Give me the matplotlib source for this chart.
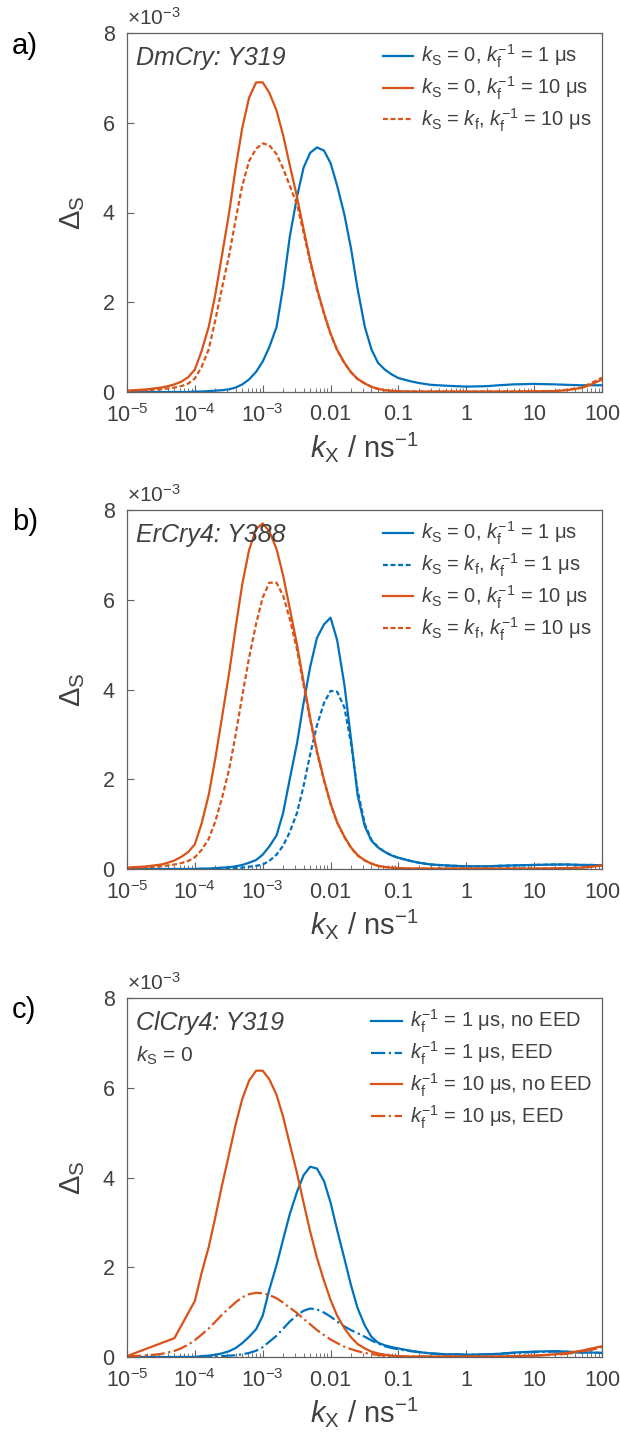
import numpy as np
import matplotlib
matplotlib.use('Agg')
import matplotlib.pyplot as plt
from matplotlib.ticker import LogLocator, NullFormatter

plt.rcParams['font.family'] = ['Liberation Sans', 'DejaVu Sans']
plt.rcParams['mathtext.fontset'] = 'custom'
plt.rcParams['mathtext.rm'] = 'Liberation Sans'
plt.rcParams['mathtext.it'] = 'Liberation Sans:italic'
plt.rcParams['mathtext.default'] = 'regular'

BLUE = '#0072BD'
ORANGE = '#D95319'
TXT = '#404040'
AXC = '#606060'

# k_X grid in ns^-1 (10 points per decade up to 0.1, coarser above)
kx = [1e-5, 1.25e-5, 1.6e-5, 2e-5, 2.5e-5, 3.2e-5, 4e-5, 5e-5, 6.3e-5, 8e-5,
      1e-4, 1.25e-4, 1.6e-4, 2e-4, 2.5e-4, 3.2e-4, 4e-4, 5e-4, 6.3e-4, 8e-4,
      1e-3, 1.25e-3, 1.6e-3, 2e-3, 2.5e-3, 3.2e-3, 4e-3, 5e-3, 6.3e-3, 8e-3,
      0.01, 0.0125, 0.016, 0.02, 0.025, 0.032, 0.04, 0.05, 0.063, 0.08,
      0.1, 0.15, 0.2, 0.3, 0.5, 0.7, 1, 2, 3, 5, 10, 20, 30, 50, 70, 100]

# ---- panel a (Delta_S in units of 1e-3)
a_blue_1us = [0, 0, 0, 0, 0, 0, 0, 0, 0, 0,
              0.01, 0.01, 0.02, 0.03, 0.04, 0.06, 0.1, 0.17, 0.28, 0.45,
              0.68, 1.0, 1.45, 2.35, 3.45, 4.35, 5.0, 5.33, 5.45, 5.38,
              5.1, 4.6, 3.95, 3.2, 2.3, 1.45, 0.95, 0.65, 0.5, 0.39,
              0.31, 0.24, 0.2, 0.16, 0.14, 0.13, 0.12, 0.13, 0.15, 0.17, 0.18, 0.17, 0.16, 0.15, 0.15, 0.15]
a_or_10us = [0.03, 0.04, 0.05, 0.06, 0.08, 0.10, 0.13, 0.17, 0.23, 0.33,
             0.5, 0.9, 1.45, 2.17, 3.03, 4.0, 5.0, 5.89, 6.56, 6.9,
             6.9, 6.67, 6.27, 5.72, 5.06, 4.35, 3.63, 2.94, 2.31, 1.76,
             1.30, 0.94, 0.65, 0.44, 0.29, 0.19, 0.115, 0.07, 0.04, 0.025,
             0.015, 0.01, 0.01, 0.01, 0.01, 0.01, 0.01, 0.01, 0.01, 0.01, 0.015, 0.02, 0.04, 0.09, 0.17, 0.28]
a_or_10us_kf = [0.02, 0.03, 0.03, 0.04, 0.05, 0.06, 0.08, 0.1, 0.13, 0.19,
                0.3, 0.55, 0.95, 1.6, 2.3, 3.05, 3.85, 4.6, 5.15, 5.42,
                5.54, 5.5, 5.3, 4.98, 4.6, 4.18, 3.55, 2.9, 2.28, 1.74,
                1.29, 0.93, 0.64, 0.44, 0.29, 0.19, 0.115, 0.07, 0.04, 0.025,
                0.015, 0.01, 0.01, 0.01, 0.01, 0.01, 0.01, 0.01, 0.01, 0.01, 0.015, 0.02, 0.05, 0.1, 0.2, 0.32]

# ---- panel b
b_blue_1us = [0, 0, 0, 0, 0, 0, 0, 0, 0, 0,
              0, 0.01, 0.01, 0.02, 0.03, 0.04, 0.06, 0.09, 0.14, 0.2,
              0.32, 0.5, 0.75, 1.25, 2.0, 2.8, 3.7, 4.5, 5.15, 5.45,
              5.6, 5.1, 4.1, 2.9, 1.65, 0.95, 0.63, 0.48, 0.38, 0.3,
              0.25, 0.18, 0.14, 0.1, 0.08, 0.07, 0.06, 0.06, 0.07, 0.08, 0.09, 0.1, 0.1, 0.09, 0.09, 0.08]
b_blue_1us_kf = [0, 0, 0, 0, 0, 0, 0, 0, 0, 0,
                 0, 0, 0, 0, 0, 0.01, 0.02, 0.03, 0.05, 0.07,
                 0.1, 0.18, 0.32, 0.52, 0.82, 1.25, 1.85, 2.55, 3.2, 3.7,
                 3.97, 3.95, 3.6, 2.8, 1.75, 1.0, 0.65, 0.49, 0.38, 0.3,
                 0.25, 0.18, 0.14, 0.1, 0.08, 0.07, 0.06, 0.06, 0.07, 0.08, 0.09, 0.1, 0.1, 0.09, 0.09, 0.08]
b_or_10us = [0.03, 0.04, 0.05, 0.06, 0.08, 0.1, 0.14, 0.19, 0.27, 0.38,
             0.55, 1.0, 1.65, 2.46, 3.36, 4.37, 5.39, 6.35, 7.11, 7.58,
             7.7, 7.53, 7.13, 6.54, 5.81, 5.0, 4.17, 3.37, 2.63, 1.99,
             1.46, 1.04, 0.72, 0.48, 0.31, 0.19, 0.12, 0.07, 0.045, 0.03,
             0.02, 0.01, 0.01, 0.01, 0.01, 0.01, 0.01, 0.01, 0.01, 0.01, 0.01, 0.015, 0.02, 0.03, 0.05, 0.08]
b_or_10us_kf = [0.02, 0.02, 0.03, 0.04, 0.05, 0.06, 0.08, 0.1, 0.13, 0.18,
                0.26, 0.42, 0.67, 1.06, 1.57, 2.22, 3.0, 3.86, 4.71, 5.47,
                6.05, 6.38, 6.38, 6.09, 5.58, 4.89, 4.1, 3.33, 2.6, 1.97,
                1.45, 1.03, 0.71, 0.47, 0.3, 0.19, 0.12, 0.07, 0.045, 0.03,
                0.02, 0.01, 0.01, 0.01, 0.01, 0.01, 0.01, 0.01, 0.01, 0.01, 0.01, 0.015, 0.02, 0.03, 0.05, 0.08]

# ---- panel c
c_blue_noeed = [0, 0, 0, 0, 0, 0, 0, 0, 0, 0,
                0, 0.02, 0.03, 0.05, 0.08, 0.13, 0.2, 0.31, 0.45, 0.62,
                0.92, 1.5, 2.05, 2.62, 3.18, 3.68, 4.05, 4.24, 4.2, 3.92,
                3.44, 2.83, 2.19, 1.6, 1.09, 0.7, 0.45, 0.32, 0.26, 0.22,
                0.19, 0.14, 0.11, 0.08, 0.06, 0.06, 0.05, 0.06, 0.07, 0.1, 0.12, 0.13, 0.12, 0.1, 0.1, 0.09]
c_blue_eed = [0, 0, 0, 0, 0, 0, 0, 0, 0, 0,
              0, 0, 0.01, 0.01, 0.02, 0.03, 0.04, 0.06, 0.09, 0.14,
              0.22, 0.34, 0.475, 0.63, 0.79, 0.93, 1.03, 1.08, 1.06, 0.99,
              0.9, 0.79, 0.68, 0.6, 0.53, 0.45, 0.37, 0.3, 0.24, 0.2,
              0.17, 0.13, 0.11, 0.08, 0.06, 0.06, 0.05, 0.06, 0.07, 0.09, 0.11, 0.12, 0.12, 0.1, 0.1, 0.09]
c_or_eed = [0.02, 0.02, 0.03, 0.04, 0.05, 0.07, 0.1, 0.135, 0.196, 0.275,
            0.375, 0.496, 0.634, 0.785, 0.94, 1.09, 1.22, 1.33, 1.40, 1.43,
            1.42, 1.38, 1.31, 1.21, 1.10, 0.98, 0.85, 0.73, 0.60, 0.49,
            0.39, 0.31, 0.23, 0.175, 0.13, 0.09, 0.065, 0.045, 0.03, 0.02,
            0.015, 0.01, 0.01, 0.01, 0.01, 0.01, 0.01, 0.01, 0.01, 0.02, 0.03, 0.05, 0.07, 0.12, 0.16, 0.22]
# the no-EED 10 us run is coarsely sampled at low k_X
kx_c_or = [1e-5, 5e-5,
           1e-4, 1.25e-4, 1.6e-4, 2e-4, 2.5e-4, 3.2e-4, 4e-4, 5e-4, 6.3e-4, 8e-4,
           1e-3, 1.25e-3, 1.6e-3, 2e-3, 2.5e-3, 3.2e-3, 4e-3, 5e-3, 6.3e-3, 8e-3,
           0.01, 0.0125, 0.016, 0.02, 0.025, 0.032, 0.04, 0.05, 0.063, 0.08,
           0.1, 0.15, 0.2, 0.3, 0.5, 0.7, 1, 2, 3, 5, 10, 20, 30, 50, 70, 100]
c_or_noeed = [0.02, 0.42,
              1.25, 1.86, 2.45, 3.11, 3.81, 4.53, 5.19, 5.75, 6.16, 6.38,
              6.38, 6.19, 5.84, 5.35, 4.75, 4.1, 3.44, 2.8, 2.21, 1.7,
              1.27, 0.92, 0.64, 0.44, 0.29, 0.19, 0.12, 0.08, 0.05, 0.03,
              0.02, 0.01, 0.01, 0.01, 0.01, 0.01, 0.01, 0.01, 0.01, 0.02, 0.03, 0.06, 0.09, 0.14, 0.19, 0.24]

xticks = [1e-5, 1e-4, 1e-3, 0.01, 0.1, 1, 10, 100]
xticklabels = ['10$^{-5}$', '10$^{-4}$', '10$^{-3}$', '0.01', '0.1', '1', '10', '100']
yticks = [0, 2, 4, 6, 8]

fig = plt.figure(figsize=(6.2, 14.35), dpi=100)


def make_axes(top_px, bottom_px):
    W, H = 620., 1435.
    ax = fig.add_axes([127 / W, 1 - bottom_px / H, 475 / W, (bottom_px - top_px) / H])
    ax.set_xscale('log')
    ax.set_xlim(1e-5, 100)
    ax.set_ylim(0, 8)
    ax.set_xticks(xticks)
    ax.set_xticklabels(xticklabels)
    ax.xaxis.set_minor_locator(LogLocator(base=10, subs=np.arange(2, 10), numticks=100))
    ax.xaxis.set_minor_formatter(NullFormatter())
    ax.set_yticks(yticks)
    ax.set_yticklabels([str(v) for v in yticks])
    ax.tick_params(which='both', direction='in', colors=AXC, labelcolor=TXT,
                   labelsize=15.5, top=False, right=False)
    ax.tick_params(which='major', length=5, width=0.8)
    ax.tick_params(which='minor', length=3, width=0.6)
    ax.tick_params(axis='x', which='major', pad=9)
    ax.tick_params(axis='y', which='major', pad=9)
    for s in ax.spines.values():
        s.set_color(AXC)
        s.set_linewidth(0.9)
    ax.set_xlabel(r'$\mathit{k}_\mathrm{X}$ / ns$^{-1}$', fontsize=21, color=TXT, labelpad=2)
    ax.set_ylabel('Δ$_\\mathrm{S}$', fontsize=21, color=TXT, labelpad=11)
    ax.text(0.0, 1.012, '×10$^{-3}$', transform=ax.transAxes, fontsize=15,
            color=TXT, ha='left', va='bottom')
    return ax


def add_legend(ax):
    ax.legend(loc='upper right', frameon=False, fontsize=14.5, handlelength=1.5,
              labelspacing=0.22, borderaxespad=0.2, handletextpad=0.4, labelcolor=TXT,
              borderpad=0.3)


lw = 1.6
kS0 = r'$\mathit{k}_\mathrm{S}$ = 0, $\mathit{k}_\mathrm{f}^{-1}$'
kSf = r'$\mathit{k}_\mathrm{S}$ = $\mathit{k}_\mathrm{f}$, $\mathit{k}_\mathrm{f}^{-1}$'
kf = r'$\mathit{k}_\mathrm{f}^{-1}$'

# ---- a
ax = make_axes(33, 392)
ax.plot(kx, a_blue_1us, color=BLUE, lw=lw, label=kS0 + ' = 1 μs')
ax.plot(kx, a_or_10us, color=ORANGE, lw=lw, label=kS0 + ' = 10 μs')
ax.plot(kx, a_or_10us_kf, color=ORANGE, lw=lw, ls=(0, (2.2, 1.2)), label=kSf + ' = 10 μs')
ax.text(0.02, 0.965, 'DmCry: Y319', transform=ax.transAxes, fontsize=18,
        style='italic', color=TXT, va='top')
add_legend(ax)
fig.text(12 / 620, 1 - 46 / 1435, 'a)', fontsize=21, color='black', va='center')

# ---- b
ax = make_axes(510, 869)
ax.plot(kx, b_blue_1us, color=BLUE, lw=lw, label=kS0 + ' = 1 μs')
ax.plot(kx, b_blue_1us_kf, color=BLUE, lw=lw, ls=(0, (2.2, 1.2)), label=kSf + ' = 1 μs')
ax.plot(kx, b_or_10us, color=ORANGE, lw=lw, label=kS0 + ' = 10 μs')
ax.plot(kx, b_or_10us_kf, color=ORANGE, lw=lw, ls=(0, (2.2, 1.2)), label=kSf + ' = 10 μs')
ax.text(0.02, 0.965, 'ErCry4: Y388', transform=ax.transAxes, fontsize=18,
        style='italic', color=TXT, va='top')
add_legend(ax)
fig.text(12 / 620, 1 - 522 / 1435, 'b)', fontsize=21, color='black', va='center')

# ---- c
ax = make_axes(998, 1357)
ax.plot(kx, c_blue_noeed, color=BLUE, lw=lw, label=kf + ' = 1 μs, no EED')
ax.plot(kx, c_blue_eed, color=BLUE, lw=lw, ls='-.', label=kf + ' = 1 μs, EED')
ax.plot(kx_c_or, c_or_noeed, color=ORANGE, lw=lw, label=kf + ' = 10 μs, no EED')
ax.plot(kx, c_or_eed, color=ORANGE, lw=lw, ls='-.', label=kf + ' = 10 μs, EED')
ax.text(0.02, 0.965, 'ClCry4: Y319', transform=ax.transAxes, fontsize=18,
        style='italic', color=TXT, va='top')
ax.text(0.02, 0.87, r'$\mathit{k}_\mathrm{S}$ = 0', transform=ax.transAxes, fontsize=15,
        color=TXT, va='top')
add_legend(ax)
fig.text(12 / 620, 1 - 1010 / 1435, 'c)', fontsize=21, color='black', va='center')

fig.savefig('out.png', dpi=100)
